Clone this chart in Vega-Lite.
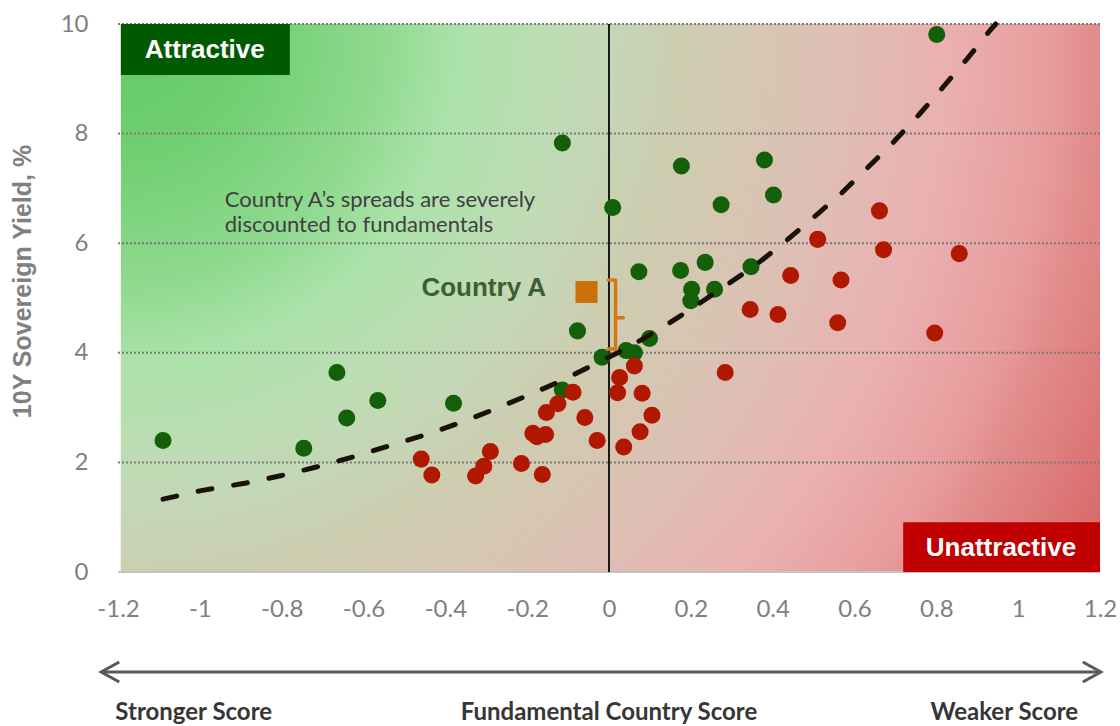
{
  "$schema": "https://vega.github.io/schema/vega-lite/v6.json",
  "width": 982,
  "height": 548,
  "autosize": {"type": "none"},
  "padding": {"left": 118, "top": 24, "right": 20, "bottom": 154},
  "background": "white",
  "config": {"view": {"stroke": null}},
  "datasets": {
    "bg": [{"x0": -1.193, "x1": 1.2, "y0": 0, "y1": 10}],
    "grid": [{"y": 2}, {"y": 4}, {"y": 6}, {"y": 8}, {"y": 10}],
    "points": [
      {"score": -1.09, "yield": 2.40, "group": "Attractive"},
      {"score": -0.746, "yield": 2.26, "group": "Attractive"},
      {"score": -0.665, "yield": 3.64, "group": "Attractive"},
      {"score": -0.641, "yield": 2.81, "group": "Attractive"},
      {"score": -0.565, "yield": 3.13, "group": "Attractive"},
      {"score": -0.38, "yield": 3.08, "group": "Attractive"},
      {"score": -0.114, "yield": 7.83, "group": "Attractive"},
      {"score": 0.009, "yield": 6.65, "group": "Attractive"},
      {"score": 0.177, "yield": 7.41, "group": "Attractive"},
      {"score": 0.274, "yield": 6.70, "group": "Attractive"},
      {"score": 0.38, "yield": 7.52, "group": "Attractive"},
      {"score": 0.402, "yield": 6.88, "group": "Attractive"},
      {"score": 0.801, "yield": 9.81, "group": "Attractive"},
      {"score": -0.077, "yield": 4.40, "group": "Attractive"},
      {"score": 0.073, "yield": 5.48, "group": "Attractive"},
      {"score": 0.175, "yield": 5.50, "group": "Attractive"},
      {"score": 0.235, "yield": 5.65, "group": "Attractive"},
      {"score": 0.202, "yield": 5.16, "group": "Attractive"},
      {"score": 0.20, "yield": 4.95, "group": "Attractive"},
      {"score": 0.258, "yield": 5.16, "group": "Attractive"},
      {"score": 0.347, "yield": 5.57, "group": "Attractive"},
      {"score": 0.099, "yield": 4.26, "group": "Attractive"},
      {"score": 0.042, "yield": 4.04, "group": "Attractive"},
      {"score": 0.062, "yield": 4.00, "group": "Attractive"},
      {"score": -0.017, "yield": 3.92, "group": "Attractive"},
      {"score": -0.114, "yield": 3.32, "group": "Attractive"},
      {"score": -0.459, "yield": 2.06, "group": "Unattractive"},
      {"score": -0.433, "yield": 1.77, "group": "Unattractive"},
      {"score": -0.29, "yield": 2.20, "group": "Unattractive"},
      {"score": -0.306, "yield": 1.93, "group": "Unattractive"},
      {"score": -0.326, "yield": 1.75, "group": "Unattractive"},
      {"score": -0.214, "yield": 1.98, "group": "Unattractive"},
      {"score": -0.163, "yield": 1.78, "group": "Unattractive"},
      {"score": -0.186, "yield": 2.53, "group": "Unattractive"},
      {"score": -0.176, "yield": 2.47, "group": "Unattractive"},
      {"score": -0.155, "yield": 2.51, "group": "Unattractive"},
      {"score": -0.153, "yield": 2.91, "group": "Unattractive"},
      {"score": -0.125, "yield": 3.07, "group": "Unattractive"},
      {"score": -0.088, "yield": 3.28, "group": "Unattractive"},
      {"score": -0.059, "yield": 2.82, "group": "Unattractive"},
      {"score": -0.029, "yield": 2.40, "group": "Unattractive"},
      {"score": 0.026, "yield": 3.55, "group": "Unattractive"},
      {"score": 0.021, "yield": 3.27, "group": "Unattractive"},
      {"score": 0.062, "yield": 3.76, "group": "Unattractive"},
      {"score": 0.081, "yield": 3.26, "group": "Unattractive"},
      {"score": 0.105, "yield": 2.86, "group": "Unattractive"},
      {"score": 0.076, "yield": 2.56, "group": "Unattractive"},
      {"score": 0.036, "yield": 2.28, "group": "Unattractive"},
      {"score": 0.284, "yield": 3.64, "group": "Unattractive"},
      {"score": 0.345, "yield": 4.79, "group": "Unattractive"},
      {"score": 0.51, "yield": 6.07, "group": "Unattractive"},
      {"score": 0.661, "yield": 6.59, "group": "Unattractive"},
      {"score": 0.671, "yield": 5.88, "group": "Unattractive"},
      {"score": 0.856, "yield": 5.81, "group": "Unattractive"},
      {"score": 0.444, "yield": 5.41, "group": "Unattractive"},
      {"score": 0.567, "yield": 5.33, "group": "Unattractive"},
      {"score": 0.413, "yield": 4.70, "group": "Unattractive"},
      {"score": 0.559, "yield": 4.55, "group": "Unattractive"},
      {"score": 0.796, "yield": 4.36, "group": "Unattractive"}
    ],
    "fit": [
      {"score": -1.09, "yield": 1.33},
      {"score": -1.0, "yield": 1.48},
      {"score": -0.89, "yield": 1.62},
      {"score": -0.80, "yield": 1.76},
      {"score": -0.713, "yield": 1.92},
      {"score": -0.626, "yield": 2.10},
      {"score": -0.45, "yield": 2.50},
      {"score": -0.365, "yield": 2.72},
      {"score": -0.28, "yield": 2.97},
      {"score": -0.196, "yield": 3.23},
      {"score": -0.113, "yield": 3.50},
      {"score": -0.03, "yield": 3.81},
      {"score": 0.05, "yield": 4.11},
      {"score": 0.128, "yield": 4.45},
      {"score": 0.205, "yield": 4.82},
      {"score": 0.28, "yield": 5.20},
      {"score": 0.353, "yield": 5.57},
      {"score": 0.426, "yield": 6.00},
      {"score": 0.497, "yield": 6.45},
      {"score": 0.565, "yield": 6.89},
      {"score": 0.631, "yield": 7.37},
      {"score": 0.696, "yield": 7.85},
      {"score": 0.757, "yield": 8.34},
      {"score": 0.818, "yield": 8.86},
      {"score": 0.876, "yield": 9.37},
      {"score": 0.932, "yield": 9.89},
      {"score": 0.945, "yield": 10.0}
    ],
    "bracket": [
      {"score": -0.002, "yield": 5.33, "step": 1},
      {"score": 0.016, "yield": 5.33, "step": 2},
      {"score": 0.016, "yield": 4.64, "step": 3},
      {"score": 0.035, "yield": 4.64, "step": 4},
      {"score": 0.016, "yield": 4.64, "step": 5},
      {"score": 0.016, "yield": 4.07, "step": 6},
      {"score": -0.002, "yield": 4.07, "step": 7}
    ],
    "note": [
      {"score": -0.939, "yield": 6.66, "text": "Country A’s spreads are severely"},
      {"score": -0.939, "yield": 6.20, "text": "discounted to fundamentals"}
    ],
    "boxes": [
      {"x0": -1.193, "x1": -0.78, "y0": 9.07, "y1": 10, "label": "Attractive", "xt": -0.988, "yt": 9.53},
      {"x0": 0.719, "x1": 1.2, "y0": 0, "y1": 0.91, "label": "Unattractive", "xt": 0.958, "yt": 0.44}
    ],
    "bottom": [
      {"score": -1.015, "yield": -2.573, "text": "Stronger Score"},
      {"score": 0.0, "yield": -2.573, "text": "Fundamental Country Score"},
      {"score": 0.966, "yield": -2.573, "text": "Weaker Score"}
    ],
    "arrowheads": [
      {"score": -1.241, "yield": -1.825, "end": "left"},
      {"score": 1.202, "yield": -1.825, "end": "right"}
    ]
  },
  "layer": [
    {
      "data": {"name": "bg"},
      "mark": {
        "type": "rect",
        "fill": {
          "gradient": "radial",
          "x1": 0, "y1": 0.2204, "r1": 0,
          "x2": 0, "y2": 0.2204, "r2": 1.145,
          "stops": [
            {"offset": 0, "color": "#62c862"},
            {"offset": 0.115, "color": "#70cf70"},
            {"offset": 0.23, "color": "#8ed98e"},
            {"offset": 0.30, "color": "#abe2a9"},
            {"offset": 0.39, "color": "#bedcb4"},
            {"offset": 0.44, "color": "#c5d6b6"},
            {"offset": 0.50, "color": "#cdcdb0"},
            {"offset": 0.57, "color": "#d6c6b2"},
            {"offset": 0.65, "color": "#e0bdb4"},
            {"offset": 0.74, "color": "#eab0b0"},
            {"offset": 0.83, "color": "#e89c9c"},
            {"offset": 0.87, "color": "#e28c8c"},
            {"offset": 1, "color": "#d86464"}
          ]
        }
      },
      "encoding": {
        "x": {
          "field": "x0", "type": "quantitative",
          "scale": {"domain": [-1.2, 1.2], "nice": false, "zero": false},
          "axis": {
            "title": null,
            "values": [-1.2, -1, -0.8, -0.6, -0.4, -0.2, 0, 0.2, 0.4, 0.6, 0.8, 1, 1.2],
            "labelExpr": "(datum.value < 0 ? '-' : '') + format(abs(datum.value), '')",
            "domain": false, "ticks": false, "tickSize": 0, "grid": false,
            "labelFont": "Lato", "labelFontSize": 24, "labelColor": "#808080",
            "labelPadding": 37, "labelBaseline": "middle",
            "labelFlush": false, "labelOverlap": false
          }
        },
        "x2": {"field": "x1"},
        "y": {
          "field": "y0", "type": "quantitative",
          "scale": {"domain": [0, 10], "nice": false, "zero": false},
          "axis": {
            "values": [0, 2, 4, 6, 8, 10],
            "domain": false, "ticks": false, "tickSize": 0, "grid": false,
            "labelFont": "Lato", "labelFontSize": 24, "labelColor": "#808080",
            "labelPadding": 30,
            "title": "10Y Sovereign Yield, %",
            "titleFont": "Liberation Sans", "titleFontSize": 25, "titleFontWeight": "bold",
            "titleColor": "#808080", "titleX": -96, "titleY": 257,
            "titleAngle": -90, "titleBaseline": "middle", "titleAlign": "center"
          }
        },
        "y2": {"field": "y1"}
      }
    },
    {
      "data": {"name": "grid"},
      "mark": {"type": "rule", "stroke": "#7a7a7a", "strokeWidth": 2, "strokeDash": [2, 2]},
      "encoding": {"y": {"field": "y", "type": "quantitative"}}
    },
    {
      "data": {"values": [{"y": 0}]},
      "mark": {"type": "rule", "stroke": "#c3c3c3", "strokeWidth": 2},
      "encoding": {"y": {"field": "y", "type": "quantitative"}}
    },
    {
      "data": {"values": [{"x": 0}]},
      "mark": {"type": "rule", "stroke": "#1a1a1a", "strokeWidth": 2},
      "encoding": {"x": {"field": "x", "type": "quantitative"}}
    },
    {
      "data": {"name": "points"},
      "mark": {"type": "circle", "size": 290, "opacity": 1},
      "encoding": {
        "x": {"field": "score", "type": "quantitative"},
        "y": {"field": "yield", "type": "quantitative"},
        "color": {
          "field": "group", "type": "nominal",
          "scale": {"domain": ["Attractive", "Unattractive"], "range": ["#146008", "#b01800"]},
          "legend": null
        }
      }
    },
    {
      "data": {"name": "fit"},
      "mark": {"type": "line", "stroke": "#1a1208", "strokeWidth": 5, "strokeDash": [14, 22], "strokeCap": "round"},
      "encoding": {
        "x": {"field": "score", "type": "quantitative"},
        "y": {"field": "yield", "type": "quantitative"}
      }
    },
    {
      "data": {"values": [{"score": -0.055, "yield": 5.11}]},
      "mark": {"type": "square", "size": 484, "color": "#c8700c", "opacity": 1},
      "encoding": {
        "x": {"field": "score", "type": "quantitative"},
        "y": {"field": "yield", "type": "quantitative"}
      }
    },
    {
      "data": {"name": "bracket"},
      "mark": {"type": "line", "stroke": "#d4780f", "strokeWidth": 3.5, "strokeJoin": "round", "strokeCap": "round"},
      "encoding": {
        "x": {"field": "score", "type": "quantitative"},
        "y": {"field": "yield", "type": "quantitative"},
        "order": {"field": "step", "type": "quantitative"}
      }
    },
    {
      "data": {"name": "note"},
      "mark": {"type": "text", "font": "Lato", "fontSize": 22, "color": "#404040", "align": "left", "baseline": "alphabetic"},
      "encoding": {
        "x": {"field": "score", "type": "quantitative"},
        "y": {"field": "yield", "type": "quantitative"},
        "text": {"field": "text"}
      }
    },
    {
      "data": {"values": [{"score": -0.306, "yield": 5.18, "text": "Country A"}]},
      "mark": {"type": "text", "font": "Liberation Sans", "fontSize": 26, "fontWeight": "bold", "color": "#3b5f33", "align": "center", "baseline": "middle"},
      "encoding": {
        "x": {"field": "score", "type": "quantitative"},
        "y": {"field": "yield", "type": "quantitative"},
        "text": {"field": "text"}
      }
    },
    {
      "data": {"name": "boxes"},
      "mark": {"type": "rect"},
      "encoding": {
        "x": {"field": "x0", "type": "quantitative"},
        "x2": {"field": "x1"},
        "y": {"field": "y0", "type": "quantitative"},
        "y2": {"field": "y1"},
        "fill": {
          "field": "label", "type": "nominal",
          "scale": {"domain": ["Attractive", "Unattractive"], "range": ["#005a00", "#c00000"]},
          "legend": null
        }
      }
    },
    {
      "data": {"name": "boxes"},
      "mark": {"type": "text", "font": "Liberation Sans", "fontSize": 26, "fontWeight": "bold", "color": "white", "align": "center", "baseline": "middle"},
      "encoding": {
        "x": {"field": "xt", "type": "quantitative"},
        "y": {"field": "yt", "type": "quantitative"},
        "text": {"field": "label"}
      }
    },
    {
      "data": {"values": [{"x0": -1.238, "x1": 1.199, "y": -1.825}]},
      "mark": {"type": "rule", "stroke": "#595959", "strokeWidth": 3},
      "encoding": {
        "x": {"field": "x0", "type": "quantitative"},
        "x2": {"field": "x1"},
        "y": {"field": "y", "type": "quantitative"}
      }
    },
    {
      "data": {"name": "arrowheads"},
      "mark": {"type": "point", "filled": false, "size": 400, "stroke": "#595959", "strokeWidth": 3, "opacity": 1},
      "encoding": {
        "x": {"field": "score", "type": "quantitative"},
        "y": {"field": "yield", "type": "quantitative"},
        "shape": {
          "field": "end", "type": "nominal",
          "scale": {"domain": ["left", "right"], "range": ["M1.8,-1L0,0L1.8,1", "M-1.8,-1L0,0L-1.8,1"]},
          "legend": null
        }
      }
    },
    {
      "data": {"name": "bottom"},
      "mark": {"type": "text", "font": "Lato", "fontSize": 24, "fontWeight": "bold", "color": "#363636", "align": "center", "baseline": "middle"},
      "encoding": {
        "x": {"field": "score", "type": "quantitative"},
        "y": {"field": "yield", "type": "quantitative"},
        "text": {"field": "text"}
      }
    }
  ]
}
